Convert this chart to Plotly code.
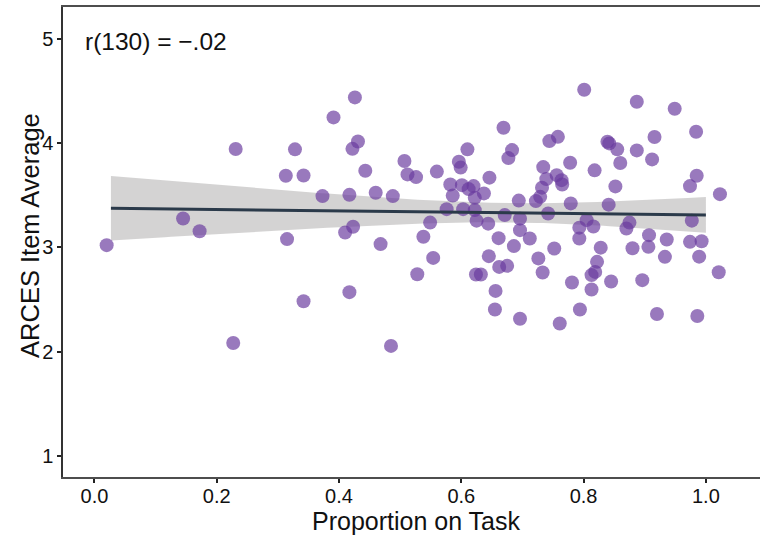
import numpy as np
import plotly.graph_objects as go

# ---- data (Proportion on Task vs ARCES Item Average) ----
proportion_on_task = [
    0.020, 0.145, 0.172, 0.231, 0.227, 0.328, 0.313, 0.342, 0.315, 0.342,
    0.391, 0.373, 0.410, 0.417, 0.417, 0.426, 0.422, 0.431, 0.423, 0.443,
    0.460, 0.468, 0.485, 0.488, 0.507, 0.512, 0.526, 0.528, 0.538, 0.549,
    0.554, 0.560, 0.576, 0.586, 0.582, 0.596, 0.599, 0.603, 0.601, 0.610,
    0.620, 0.622, 0.622, 0.625, 0.624, 0.632, 0.637, 0.646, 0.644, 0.645,
    0.655, 0.656, 0.661, 0.662, 0.669, 0.677, 0.675, 0.683, 0.671, 0.686,
    0.694, 0.696, 0.696, 0.696, 0.712, 0.722, 0.729, 0.732, 0.734, 0.739,
    0.726, 0.733, 0.742, 0.744, 0.752, 0.758, 0.756, 0.764, 0.765, 0.761,
    0.778, 0.779, 0.781, 0.793, 0.793, 0.794, 0.801, 0.805, 0.816, 0.818,
    0.828, 0.822, 0.819, 0.813, 0.813, 0.839, 0.842, 0.841, 0.845, 0.852,
    0.855, 0.860, 0.870, 0.875, 0.880, 0.887, 0.887, 0.896, 0.906, 0.907,
    0.912, 0.916, 0.920, 0.933, 0.936, 0.949, 0.974, 0.977, 0.974, 0.984,
    0.985, 0.986, 0.989, 0.993, 1.021, 1.023, 0.612,
]
arces_item_average = [
    3.020, 3.276, 3.154, 3.941, 2.083, 3.938, 3.685, 3.688, 3.078, 2.483,
    4.244, 3.490, 3.142, 2.570, 3.502, 4.436, 3.943, 4.014, 3.196, 3.733,
    3.522, 3.030, 2.055, 3.490, 3.826, 3.698, 3.672, 2.742, 3.100, 3.236,
    2.898, 3.725, 3.365, 3.495, 3.602, 3.819, 3.763, 3.365, 3.595, 3.938,
    3.586, 3.474, 3.356, 3.255, 2.739, 2.739, 3.516, 3.667, 3.226, 2.915,
    2.404, 2.582, 3.087, 2.812, 4.145, 3.854, 2.822, 3.931, 3.308, 3.011,
    3.447, 3.274, 3.164, 2.315, 3.084, 3.442, 3.483, 3.571, 3.768, 3.653,
    2.893, 2.758, 3.324, 4.017, 2.988, 4.058, 3.691, 3.643, 3.602, 2.269,
    3.809, 3.420, 2.663, 3.188, 3.084, 2.404, 4.509, 3.260, 3.199, 3.737,
    2.996, 2.860, 2.764, 2.733, 2.595, 4.011, 3.995, 3.408, 2.672, 3.583,
    3.938, 3.808, 3.180, 3.236, 2.991, 4.394, 3.928, 2.685, 3.004, 3.116,
    3.842, 4.056, 2.361, 2.908, 3.075, 4.327, 3.586, 3.255, 3.052, 4.106,
    3.685, 2.342, 2.910, 3.058, 2.761, 3.509, 3.557,
]

x_ticks = [0.0, 0.2, 0.4, 0.6, 0.8, 1.0]
x_tick_labels = ["0.0", "0.2", "0.4", "0.6", "0.8", "1.0"]
y_ticks = [1, 2, 3, 4, 5]
y_tick_labels = ["1", "2", "3", "4", "5"]
fit_x_extent = [0.027, 1.0]
annotation_text = "r(130) = \u2212.02"
x_title = "Proportion on Task"
y_title = "ARCES Item Average"

# ---- linear fit with 95% confidence band ----
x = np.array(proportion_on_task)
y = np.array(arces_item_average)
n = len(x)
slope, intercept = np.polyfit(x, y, 1)
resid = y - (slope * x + intercept)
s = np.sqrt(np.sum(resid ** 2) / (n - 2))
xbar = x.mean()
sxx = np.sum((x - xbar) ** 2)
t_crit = 1.978
xf = np.linspace(fit_x_extent[0], fit_x_extent[1], 100)
yf = slope * xf + intercept
se = s * np.sqrt(1.0 / n + (xf - xbar) ** 2 / sxx)
upper = yf + t_crit * se
lower = yf - t_crit * se

FONT = "Liberation Sans, Arial, sans-serif"

fig = go.Figure()
fig.add_trace(go.Scatter(
    x=np.concatenate([xf, xf[::-1]]), y=np.concatenate([upper, lower[::-1]]),
    fill="toself", fillcolor="rgba(170,167,167,0.5)", line=dict(width=0),
    mode="lines", hoverinfo="skip", showlegend=False,
))
fig.add_trace(go.Scatter(
    x=x, y=y, mode="markers",
    marker=dict(size=14, color="rgba(105,58,158,0.68)", line=dict(width=0)),
    showlegend=False,
))
fig.add_trace(go.Scatter(
    x=xf, y=yf, mode="lines", line=dict(color="#2b3a4a", width=3),
    showlegend=False,
))

fig.add_annotation(
    x=-0.0186, y=4.976, xref="x", yref="y", text=annotation_text,
    showarrow=False, xanchor="left", yanchor="middle",
    font=dict(family=FONT, size=24.5, color="#111111"),
)
fig.add_annotation(
    x=0.5065, y=-0.0945, xref="paper", yref="paper", text=x_title,
    showarrow=False, xanchor="center", yanchor="middle",
    font=dict(family=FONT, size=25, color="#111111"),
)
fig.add_annotation(
    x=-0.0473, y=0.513, xref="paper", yref="paper", text=y_title,
    showarrow=False, xanchor="center", yanchor="middle", textangle=-90,
    font=dict(family=FONT, size=25.5, color="#111111"),
)

axis_font = dict(family=FONT, size=20, color="#111111")

fig.update_layout(
    width=760, height=538,
    margin=dict(l=63, r=0, t=7, b=61),
    paper_bgcolor="white", plot_bgcolor="white",
    xaxis=dict(
        range=[-0.0514, 1.0885], tickvals=x_ticks, ticktext=x_tick_labels,
        showgrid=False, zeroline=False, showline=True, linecolor="#4d4d4d",
        linewidth=1.5, mirror=True, ticks="outside", ticklen=4, tickwidth=1.5,
        tickcolor="#222222", tickfont=axis_font, ticklabelstandoff=-4,
    ),
    yaxis=dict(
        range=[0.7987, 5.302], tickvals=y_ticks, ticktext=y_tick_labels,
        showgrid=False, zeroline=False, showline=True, linecolor="#333333",
        linewidth=1.5, ticks="outside", ticklen=4, tickwidth=1.5,
        tickcolor="#222222", tickfont=axis_font,
    ),
)

fig.write_html("out.html")
